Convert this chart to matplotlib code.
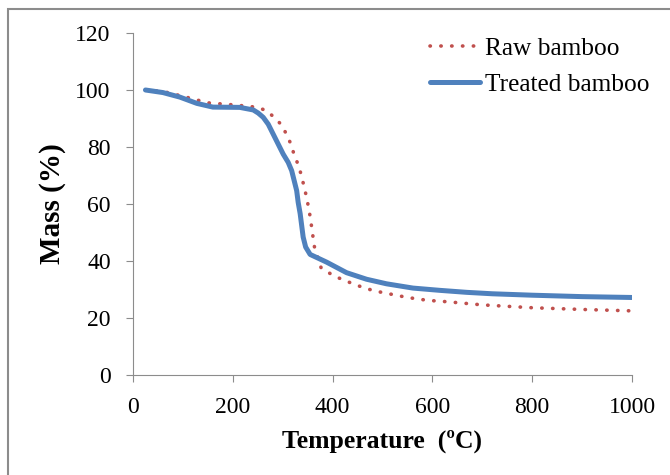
import matplotlib
matplotlib.use('Agg')
import matplotlib.pyplot as plt
from matplotlib.patches import Rectangle

# Data
temp_raw = [25, 60, 100, 150, 200, 230, 250, 268, 283, 298, 308, 317, 323, 331, 337,
            342, 347, 351, 355, 358, 361, 364, 377, 395, 413, 431, 450, 470, 490, 510,
            550, 590, 630, 700, 800, 900, 1000]
mass_raw = [100, 99.5, 97.8, 95.5, 94.8, 94.3, 93.9, 92.7, 90.4, 87.7, 84.3, 80.8, 77.2,
            73.8, 70.3, 66.7, 63.0, 59.5, 55.6, 51.9, 48.1, 44.5, 37.6, 35.6, 34.0, 32.7,
            31.4, 30.2, 29.3, 28.6, 27.2, 26.2, 25.7, 24.6, 23.6, 23.0, 22.5]

temp_treated = [25, 60, 94, 128, 160, 214, 241, 251, 261, 271, 281, 291, 301, 311, 318,
                323, 328, 331, 335, 338, 341, 346, 355, 388, 428, 468, 508, 561, 615,
                669, 720, 800, 900, 1000]
mass_treated = [100, 99.1, 97.5, 95.3, 94.0, 93.9, 93.0, 91.9, 90.4, 88.0, 84.5, 81.0,
                77.5, 74.6, 71.7, 68.2, 64.7, 60.6, 56.6, 52.5, 48.4, 44.9, 42.3, 39.6,
                35.9, 33.6, 32.0, 30.5, 29.7, 29.0, 28.5, 28.0, 27.5, 27.2]

x_ticks = [0, 200, 400, 600, 800, 1000]
y_ticks = [0, 20, 40, 60, 80, 100, 120]

plt.rcParams['font.family'] = ['Liberation Serif', 'DejaVu Serif']

fig = plt.figure(figsize=(6.7, 4.75), dpi=100)
# outer frame (only left/top edges visible in the original crop)
fig.patches.append(Rectangle((8 / 670, -0.1), 1.2, 1 - 9 / 475 + 0.1,
                             transform=fig.transFigure, fill=False,
                             edgecolor='#8c8c8c', linewidth=1.5))

ax = fig.add_axes([133 / 670, 1 - 375 / 475, 499 / 670, 342 / 475])

ax.plot(temp_raw, mass_raw, color='#C0504D', linewidth=2.6,
        linestyle=(0, (0.1, 2.9)), dash_capstyle='round', label='Raw bamboo')
ax.plot(temp_treated, mass_treated, color='#4F81BD', linewidth=3.6,
        solid_capstyle='round', solid_joinstyle='round', label='Treated bamboo')

ax.set_xlim(0, 1000)
ax.set_ylim(0, 120)
ax.set_xticks(x_ticks)
ax.set_yticks(y_ticks)
ax.tick_params(direction='out', length=5, color='#8c8c8c', labelsize=17)
ax.tick_params(axis='x', pad=11)
ax.tick_params(axis='y', pad=11)

for s in ['top', 'right']:
    ax.spines[s].set_visible(False)
for s in ['left', 'bottom']:
    ax.spines[s].set_color('#8c8c8c')

ax.set_xlabel('Temperature  (ºC)', fontsize=18.5, fontweight='bold', labelpad=8)
ax.set_ylabel('Mass (%)', fontsize=21, fontweight='bold', labelpad=7)

ax.legend(loc='upper right', bbox_to_anchor=(1.036, 0.987), frameon=False, fontsize=18.3,
          borderpad=0, borderaxespad=0,
          handlelength=2.0, handletextpad=0.2, labelspacing=0.5)

fig.savefig('out.png', dpi=100)
